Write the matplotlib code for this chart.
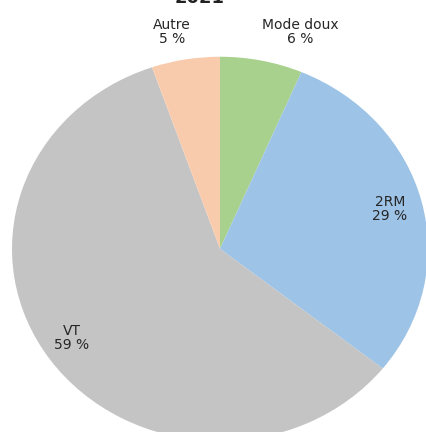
import matplotlib.pyplot as plt

# Répartition modale 2021
categories = ["Mode doux", "2RM", "VT", "Autre"]
parts = [6.4, 29.3, 59.0, 5.3]
couleurs = ["#A9D18E", "#9DC3E6", "#C4C4C4", "#F8CBAD"]
titre = "2021"

# position des étiquettes (coordonnées de l'axe, centre du camembert = 0,0)
pos_labels = [(0.385, 1.13), (0.817, 0.206), (-0.712, -0.464), (-0.231, 1.13)]

fig = plt.figure(figsize=(4.27, 4.32), dpi=100)
ax = fig.add_axes([0, 0, 1, 1])

ax.pie(parts, colors=couleurs, startangle=90, counterclock=False,
       wedgeprops=dict(linewidth=0))
ax.set_aspect("auto")
# ellipse légèrement aplatie comme dans l'image d'origine
ax.set_xlim(-220 / 208, (427 - 220) / 208)
ax.set_ylim(-(432 - 248) / 193, 250 / 193)
ax.axis("off")

for cat, val, (x, y) in zip(categories, parts, pos_labels):
    ax.text(x, y, f"{cat}\n{val:.0f} %", ha="center", va="center",
            fontsize=10, color="#262626", linespacing=1.0,
            clip_on=False)

# titre partiellement coupé en haut, comme sur l'original
fig.text(200 / 427, 1 + 2 / 432, titre, ha="center", va="center",
         fontsize=13, fontweight="bold", color="#222222")

fig.savefig("out.png", dpi=100)
